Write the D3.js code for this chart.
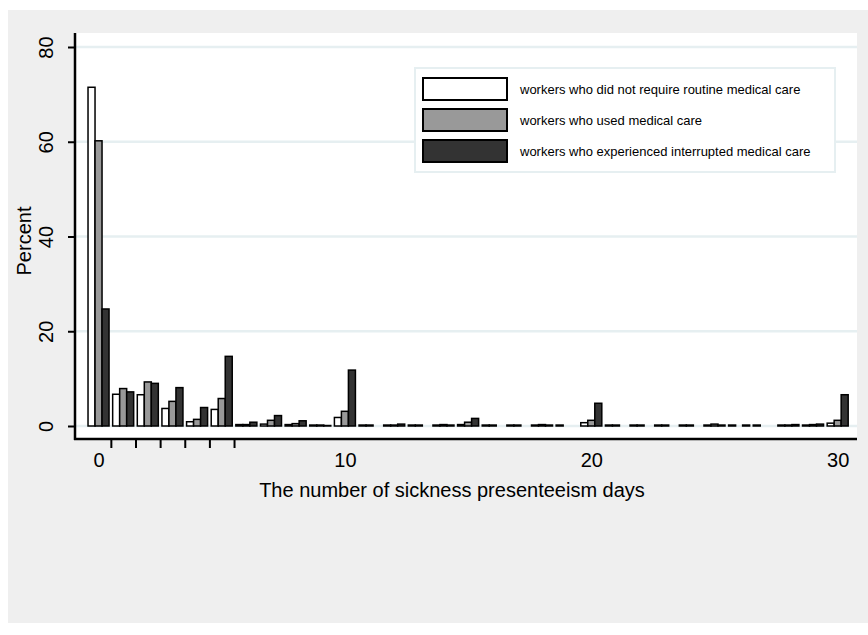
<!DOCTYPE html>
<html>
<head>
<meta charset="utf-8">
<script src="https://cdn.jsdelivr.net/npm/d3@7"></script>
<style>
  body { margin: 0; background: #fff; }
  text { font-family: "Liberation Sans", Arial, Helvetica, sans-serif; fill: #000; }
</style>
</head>
<body>
<svg id="chart" width="868" height="635"></svg>
<script>
// sickness presenteeism days 0..30
const days = [0, 1, 2, 3, 4, 5, 6, 7, 8, 9, 10, 11, 12, 13, 14, 15,
              16, 17, 18, 19, 20, 21, 22, 23, 24, 25, 26, 27, 28, 29, 30];

const seriesNames = [
    "workers who did not require routine medical care",
    "workers who used medical care",
    "workers who experienced interrupted medical care"
];

// percent per day
const notRequired = [71.5, 6.7, 6.6, 3.7, 0.9, 3.5, 0.3, 0.4, 0.3, 0.2, 1.8, 0.2, 0.2, 0.2, 0.2, 0.3,
                     0.2, 0.2, 0.2, 0.2, 0.7, 0.2, 0.2, 0.2, 0.2, 0.2, 0.2, 0.2, 0.2, 0.2, 0.6];
const usedCare    = [60.2, 7.9, 9.3, 5.2, 1.4, 5.8, 0.3, 1.2, 0.5, 0.2, 3.1, 0.2, 0.2, 0.2, 0.3, 0.8,
                     0.2, 0.2, 0.3, 0, 1.2, 0.2, 0.2, 0.2, 0.2, 0.4, 0, 0, 0.2, 0.3, 1.2];
const interrupted = [24.7, 7.2, 9.0, 8.1, 3.9, 14.7, 0.8, 2.2, 1.1, 0.1, 11.8, 0, 0.4, 0, 0.2, 1.6,
                     0, 0, 0.2, 0, 4.8, 0, 0, 0, 0, 0.2, 0.2, 0, 0.3, 0.4, 6.6];

const yTicks = [0, 20, 40, 60, 80];
const xLabelTicks = [0, 10, 20, 30];
const xMinorTicks = [0.5, 1.5, 2.5, 3.5, 4.5, 5.5];

const seriesValues = [notRequired, usedCare, interrupted];
const fills = ["#ffffff", "#999999", "#333333"];

const svg = d3.select("#chart");
const plot = { left: 75, right: 857, top: 33, bottom: 439 };

// outer background
svg.append("rect")
    .attr("x", 8).attr("y", 10)
    .attr("width", 860).attr("height", 613)
    .attr("fill", "#efefef");

// plot region
svg.append("rect")
    .attr("x", plot.left).attr("y", plot.top)
    .attr("width", plot.right - plot.left)
    .attr("height", plot.bottom - plot.top)
    .attr("fill", "#ffffff");

let yScale = d3.scaleLinear().domain([0, 80]).range([426, 47]);

let xScale = d3.scaleBand()
    .domain(days)
    .range([86.2, 850])
    .paddingInner(0.147)
    .paddingOuter(0.074);

let subScale = d3.scaleBand()
    .domain([0, 1, 2])
    .range([0, xScale.bandwidth()]);

// day -> centre of its bar group, for the in-between ticks
let xCentre = d3.scaleLinear()
    .domain([0, 30])
    .range([xScale(0) + xScale.bandwidth() / 2, xScale(30) + xScale.bandwidth() / 2]);

// grid
svg.append("g")
    .selectAll("line")
    .data(yTicks)
    .join("line")
    .attr("x1", plot.left).attr("x2", plot.right)
    .attr("y1", d => yScale(d)).attr("y2", d => yScale(d))
    .attr("stroke", "#e6eff1")
    .attr("stroke-width", 2.5);

// bars
let rows = [];
seriesValues.forEach((vals, s) => {
    vals.forEach((v, i) => rows.push({ s: s, day: days[i], v: v }));
});

svg.append("g")
    .selectAll("rect")
    .data(rows.filter(d => d.v > 0))
    .join("rect")
    .attr("x", d => xScale(d.day) + subScale(d.s))
    .attr("width", subScale.bandwidth())
    .attr("y", d => yScale(d.v))
    .attr("height", d => yScale(0) - yScale(d.v))
    .attr("fill", d => fills[d.s])
    .attr("stroke", "#000")
    .attr("stroke-width", 1.5);

// y axis
let gY = svg.append("g")
    .attr("transform", `translate(${plot.left},0)`)
    .call(d3.axisLeft(yScale).tickValues(yTicks).tickSize(7).tickFormat(d3.format("d")));
gY.select(".domain").remove();
gY.selectAll(".tick line").attr("stroke-width", 2);
gY.selectAll(".tick text")
    .attr("x", 0).attr("dy", 0)
    .attr("text-anchor", "middle")
    .attr("transform", "translate(-22,0) rotate(-90)")
    .style("font-size", "20px")
    .style("font-family", "'Liberation Sans', Arial, sans-serif");

// x axis: labels at 0/10/20/30, marks between the first groups
let gX = svg.append("g")
    .attr("transform", `translate(0,${plot.bottom})`)
    .call(d3.axisBottom(xCentre).tickValues(xLabelTicks).tickSize(0).tickPadding(14).tickFormat(d3.format("d")));
gX.select(".domain").remove();
gX.selectAll(".tick text")
    .style("font-size", "20px")
    .style("font-family", "'Liberation Sans', Arial, sans-serif");

let gXm = svg.append("g")
    .attr("transform", `translate(0,${plot.bottom})`)
    .call(d3.axisBottom(xCentre).tickValues(xMinorTicks).tickSize(9).tickFormat(""));
gXm.select(".domain").remove();
gXm.selectAll(".tick line").attr("stroke-width", 2);

// axis lines
svg.append("line")
    .attr("x1", plot.left).attr("x2", plot.left)
    .attr("y1", plot.top).attr("y2", plot.bottom + 1)
    .attr("stroke", "#000").attr("stroke-width", 2.5);
svg.append("line")
    .attr("x1", plot.left - 1).attr("x2", plot.right)
    .attr("y1", plot.bottom).attr("y2", plot.bottom)
    .attr("stroke", "#000").attr("stroke-width", 2.5);

// titles
svg.append("text")
    .attr("transform", "translate(31,241) rotate(-90)")
    .attr("text-anchor", "middle")
    .style("font-size", "20px")
    .text("Percent");

svg.append("text")
    .attr("x", 452).attr("y", 497)
    .attr("text-anchor", "middle")
    .style("font-size", "20px")
    .text("The number of sickness presenteeism days");

// legend
let legend = svg.append("g").attr("transform", "translate(415,68)");
legend.append("rect")
    .attr("width", 420).attr("height", 104)
    .attr("fill", "#fff")
    .attr("stroke", "#e6eff1")
    .attr("stroke-width", 2);

let item = legend.selectAll(".item")
    .data(seriesNames)
    .join("g")
    .attr("class", "item")
    .attr("transform", (d, i) => `translate(0,${10 + i * 31})`);
item.append("rect")
    .attr("x", 8).attr("width", 84).attr("height", 22)
    .attr("fill", (d, i) => fills[i])
    .attr("stroke", "#000")
    .attr("stroke-width", 2);
item.append("text")
    .attr("x", 105).attr("y", 15.5)
    .style("font-size", "13px")
    .text(d => d);
</script>
</body>
</html>
